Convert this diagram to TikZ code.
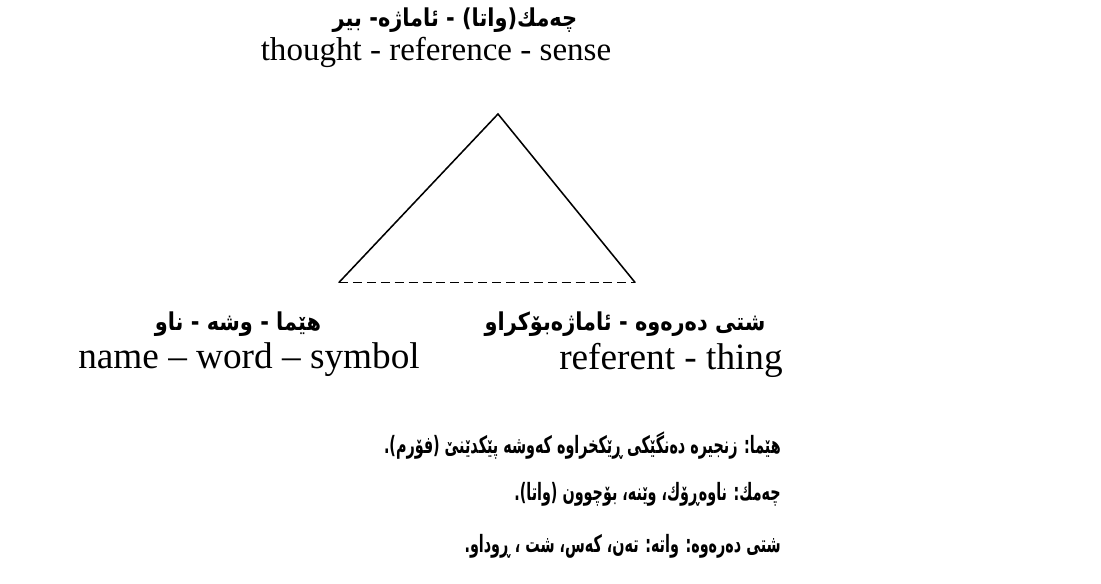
\documentclass[tikz,border=0pt]{standalone}
\usepackage{fontspec}
\setmainfont{Liberation Serif}
\newfontfamily\kurdfont[Script=Arabic,FakeStretch=0.85]{DejaVu Sans}
\newfontfamily\kurddeffont[Script=Arabic,FakeStretch=0.6]{DejaVu Sans}
\TeXXeTstate=1
\usepackage{tikz}
\usetikzlibrary{positioning,calc}

\begin{document}
\begin{tikzpicture}[
  engsmall/.style={font=\fontsize{23.5}{27}\selectfont, inner sep=0pt},
  engbig/.style={font=\fontsize{26.5}{30}\selectfont, inner sep=0pt},
  kurd/.style={font=\kurdfont\bfseries\fontsize{17.5}{20}\selectfont, inner sep=0pt},
  kurdline/.style={font=\kurddeffont\bfseries\fontsize{17}{20}\selectfont, inner sep=0pt, anchor=east},
  side/.style={line width=1.1pt, line cap=round},
  baseline/.style={line width=1.1pt, dash pattern=on 6.4pt off 3.5pt},
]
\useasboundingbox (0,0) rectangle (27.525,14.6);

% --- apex labels ---
\node[kurd] (topkurd) at (11.375,14.1) {\beginR چەمك(واتا) - ئاماژە- بیر\endR};
\node[engsmall] (thought) at (10.9,13.28) {thought - reference - sense};

% --- triangle ---
\coordinate (apex)  at (12.45,11.75);
\coordinate (left)  at (8.475,7.54);
\coordinate (right) at (15.875,7.54);
\draw[side] (left) -- (apex) -- (right);
\draw[baseline] (left) -- (right);

% --- corner labels ---
\node[kurd] (symkurd) at (5.95,6.5) {\beginR هێما - وشە - ناو\endR};
\node[kurd] (refkurd) at (15.625,6.5) {\beginR شتی دەرەوە - ئاماژەبۆكراو\endR};
\node[engbig] (name) at (6.225,5.6) {name -- word -- symbol};
\node[engbig] (referent) at (16.775,5.6) {referent - thing};

% --- definitions ---
\node[kurdline] (defsym) at (19.525,3.45) {\beginR هێما: زنجیرە دەنگێكی ڕێكخراوە كەوشە پێكدێنێ (فۆرم).\endR};
\node[kurdline] (defthought) at (19.525,2.25) {\beginR چەمك: ناوەڕۆك، وێنە، بۆچوون (واتا).\endR};
\node[kurdline] (defthing) at (19.525,0.95) {\beginR شتی دەرەوە: واتە: تەن، كەس، شت ، ڕوداو.\endR};

\end{tikzpicture}
\end{document}
